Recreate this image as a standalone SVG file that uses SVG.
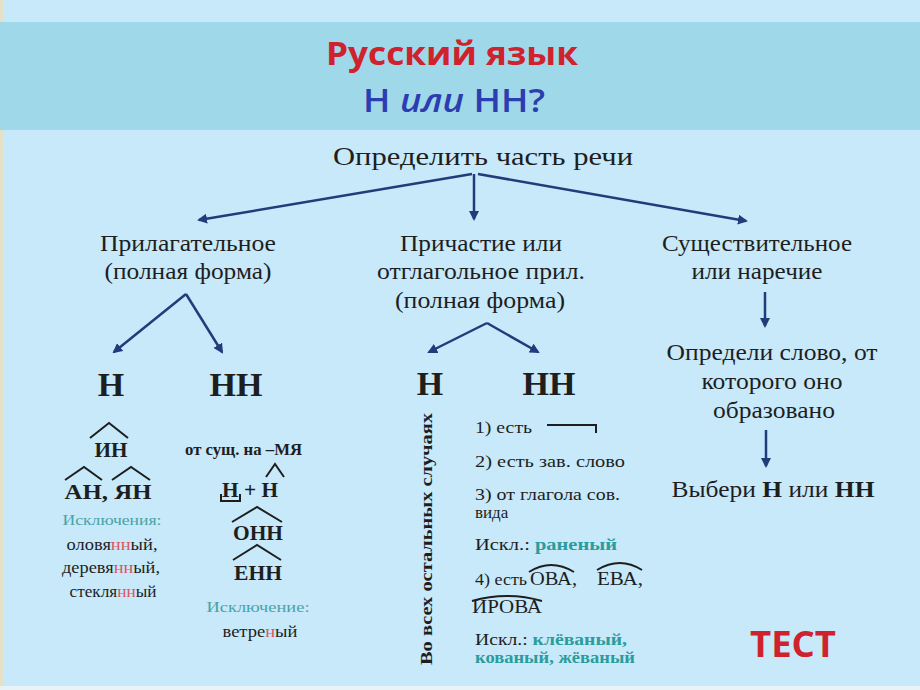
<svg xmlns="http://www.w3.org/2000/svg" width="920" height="690" viewBox="0 0 920 690">
<defs>
<marker id="ah" viewBox="0 0 10 10" refX="8" refY="5" markerWidth="4" markerHeight="4" orient="auto-start-reverse"><path d="M0,0 L10,5 L0,10 z" fill="#1f3d7a"/></marker>
<style>
.s{font-family:"Liberation Serif","Times New Roman",serif;fill:#1e1e1e}
.m{font-size:23px}
.b{font-weight:bold}
.hd{font-size:34px;font-weight:bold}
.sm{font-size:16px}
.ls{font-size:17px}
.ex{font-size:15px;fill:#4aa3a6}
.tl{fill:#2a9c9c;font-weight:bold}
.rd{fill:#e0555a}
.c{stroke:#1f3d7a;stroke-width:2.5;fill:none;marker-end:url(#ah)}
.h{stroke:#1e1e1e;stroke-width:2;fill:none}
</style>
</defs>
<rect width="920" height="690" fill="#c7e9fa"/>
<rect x="0" y="0" width="3" height="690" fill="#e6e0c6"/>
<rect x="0" y="22" width="920" height="108" fill="#9ed8e9"/>
<rect x="0" y="686" width="920" height="4" fill="#e8f3f8"/>

<g id="title">
<text x="452" y="65" text-anchor="middle" font-family="'Open Sans','Liberation Sans',sans-serif" font-weight="bold" font-size="33" fill="#d0222d" textLength="252" lengthAdjust="spacingAndGlyphs">Русский язык</text>
<text x="454" y="112" text-anchor="middle" font-family="'Open Sans','Liberation Sans',sans-serif" font-weight="600" font-size="32" fill="#2d3db0" textLength="182" lengthAdjust="spacingAndGlyphs">Н <tspan font-style="italic">или</tspan> НН?</text>
</g>

<g id="connectors">
<path class="c" d="M472,174 L199,220"/>
<path class="c" d="M474,174 L474,219"/>
<path class="c" d="M478,174 L746,221"/>
<path class="c" d="M186,294 L114,352"/>
<path class="c" d="M186,294 L222,352"/>
<path class="c" d="M487,323 L429,352"/>
<path class="c" d="M487,323 L538,352"/>
<path class="c" d="M765,292 L765,326"/>
<path class="c" d="M766,430 L766,466"/>
</g>

<g id="root">
<text class="s" x="483" y="165" text-anchor="middle" font-size="25" textLength="300" lengthAdjust="spacingAndGlyphs">Определить часть речи</text>
</g>

<g id="adj">
<text class="s m" x="188" y="251" text-anchor="middle" textLength="176" lengthAdjust="spacingAndGlyphs">Прилагательное</text>
<text class="s m" x="188" y="279" text-anchor="middle" textLength="167" lengthAdjust="spacingAndGlyphs">(полная форма)</text>
</g>

<g id="part">
<text class="s m" x="481" y="251" text-anchor="middle" textLength="162" lengthAdjust="spacingAndGlyphs">Причастие или</text>
<text class="s m" x="481" y="279" text-anchor="middle" textLength="208" lengthAdjust="spacingAndGlyphs">отглагольное прил.</text>
<text class="s m" x="480" y="308" text-anchor="middle" textLength="170" lengthAdjust="spacingAndGlyphs">(полная форма)</text>
</g>

<g id="noun">
<text class="s m" x="757" y="251" text-anchor="middle" textLength="190" lengthAdjust="spacingAndGlyphs">Существительное</text>
<text class="s m" x="757" y="279" text-anchor="middle" textLength="131" lengthAdjust="spacingAndGlyphs">или наречие</text>
</g>

<g id="adj-n">
<text class="s hd" x="111" y="396" text-anchor="middle">Н</text>
<path class="h" d="M90,438 L109,423 L128,438"/>
<text class="s b" font-size="22" x="111" y="457" text-anchor="middle" textLength="33" lengthAdjust="spacingAndGlyphs">ИН</text>
<path class="h" d="M65,480 L84,467 L102,480"/>
<path class="h" d="M112,480 L131,467 L150,480"/>
<text class="s b" font-size="22" x="108" y="499" text-anchor="middle" textLength="87" lengthAdjust="spacingAndGlyphs">АН, ЯН</text>
<text class="s ex" x="112" y="525" text-anchor="middle" textLength="99" lengthAdjust="spacingAndGlyphs">Исключения:</text>
<text class="s sm" x="112" y="550" text-anchor="middle" textLength="91" lengthAdjust="spacingAndGlyphs">оловя<tspan class="rd">нн</tspan>ый,</text>
<text class="s sm" x="111" y="573" text-anchor="middle" textLength="98" lengthAdjust="spacingAndGlyphs">деревя<tspan class="rd">нн</tspan>ый,</text>
<text class="s sm" x="113" y="597" text-anchor="middle" textLength="87" lengthAdjust="spacingAndGlyphs">стекля<tspan class="rd">нн</tspan>ый</text>
</g>

<g id="adj-nn">
<text class="s hd" x="236" y="396" text-anchor="middle">НН</text>
<text class="s b sm" x="185" y="455" textLength="117" lengthAdjust="spacingAndGlyphs">от сущ. на –МЯ</text>
<path class="h" d="M266,477 L275,464 L284,477" stroke-width="1.6"/>
<text class="s b" font-size="21" x="250" y="497" text-anchor="middle" textLength="56" lengthAdjust="spacingAndGlyphs">Н + Н</text>
<path class="h" d="M221,494 L221,501 L240,501 L240,494" stroke-width="1.6"/>
<path class="h" d="M232,522 L257,507 L282,522"/>
<text class="s b" font-size="22" x="258" y="540" text-anchor="middle" textLength="50" lengthAdjust="spacingAndGlyphs">ОНН</text>
<path class="h" d="M233,560 L257,545 L281,560"/>
<text class="s b" font-size="22" x="258" y="580" text-anchor="middle" textLength="48" lengthAdjust="spacingAndGlyphs">ЕНН</text>
<text class="s ex" x="258" y="612" text-anchor="middle" textLength="103" lengthAdjust="spacingAndGlyphs">Исключение:</text>
<text class="s sm" x="260" y="637" text-anchor="middle" textLength="75" lengthAdjust="spacingAndGlyphs">ветре<tspan class="rd">н</tspan>ый</text>
</g>

<g id="part-n">
<text class="s hd" x="430" y="395" text-anchor="middle">Н</text>
<text class="s b" font-size="17" transform="translate(432,539) rotate(-90)" text-anchor="middle" textLength="252" lengthAdjust="spacingAndGlyphs">Во всех остальных случаях</text>
</g>

<g id="part-nn">
<text class="s hd" x="549" y="395" text-anchor="middle">НН</text>
<text class="s ls" x="475" y="433" textLength="57" lengthAdjust="spacingAndGlyphs">1) есть</text>
<path class="h" d="M547,425 L596,425 L596,433"/>
<text class="s ls" x="475" y="467" textLength="150" lengthAdjust="spacingAndGlyphs">2) есть зав. слово</text>
<text class="s ls" x="475" y="500" textLength="145" lengthAdjust="spacingAndGlyphs">3) от глагола сов.</text>
<text class="s ls" x="475" y="518">вида</text>
<text class="s ls" x="475" y="550" textLength="142" lengthAdjust="spacingAndGlyphs">Искл.: <tspan class="tl">раненый</tspan></text>
<text class="s ls" x="475" y="585" textLength="52" lengthAdjust="spacingAndGlyphs">4) есть</text>
<path class="h" d="M529,572 Q551,558 574,572" stroke-width="1.6"/>
<text class="s" font-size="18" x="530" y="585" textLength="47" lengthAdjust="spacingAndGlyphs">ОВА,</text>
<path class="h" d="M597,570 Q620,556 642,570" stroke-width="1.6"/>
<text class="s" font-size="18" x="597" y="585" textLength="46" lengthAdjust="spacingAndGlyphs">ЕВА,</text>
<path class="h" d="M472,601 Q507,591 542,601" stroke-width="1.6"/>
<text class="s" font-size="18" x="472" y="613" textLength="70" lengthAdjust="spacingAndGlyphs">ИРОВА</text>
<text class="s ls" x="475" y="645" textLength="152" lengthAdjust="spacingAndGlyphs">Искл.: <tspan class="tl">клёваный,</tspan></text>
<text class="s ls tl" x="475" y="663" textLength="160" lengthAdjust="spacingAndGlyphs">кованый, жёваный</text>
</g>

<g id="noun-chain">
<text class="s m" x="772" y="360" text-anchor="middle" textLength="211" lengthAdjust="spacingAndGlyphs">Определи слово, от</text>
<text class="s m" x="772" y="389" text-anchor="middle" textLength="141" lengthAdjust="spacingAndGlyphs">которого оно</text>
<text class="s m" x="774" y="418" text-anchor="middle" textLength="122" lengthAdjust="spacingAndGlyphs">образовано</text>
<text class="s m" x="773" y="497" text-anchor="middle" textLength="203" lengthAdjust="spacingAndGlyphs">Выбери <tspan class="b">Н</tspan> или <tspan class="b">НН</tspan></text>
</g>

<g id="test">
<text x="793" y="657" text-anchor="middle" font-family="'Open Sans','Liberation Sans',sans-serif" font-weight="bold" font-size="36" fill="#d0222d" textLength="86" lengthAdjust="spacingAndGlyphs">ТЕСТ</text>
</g>
</svg>
